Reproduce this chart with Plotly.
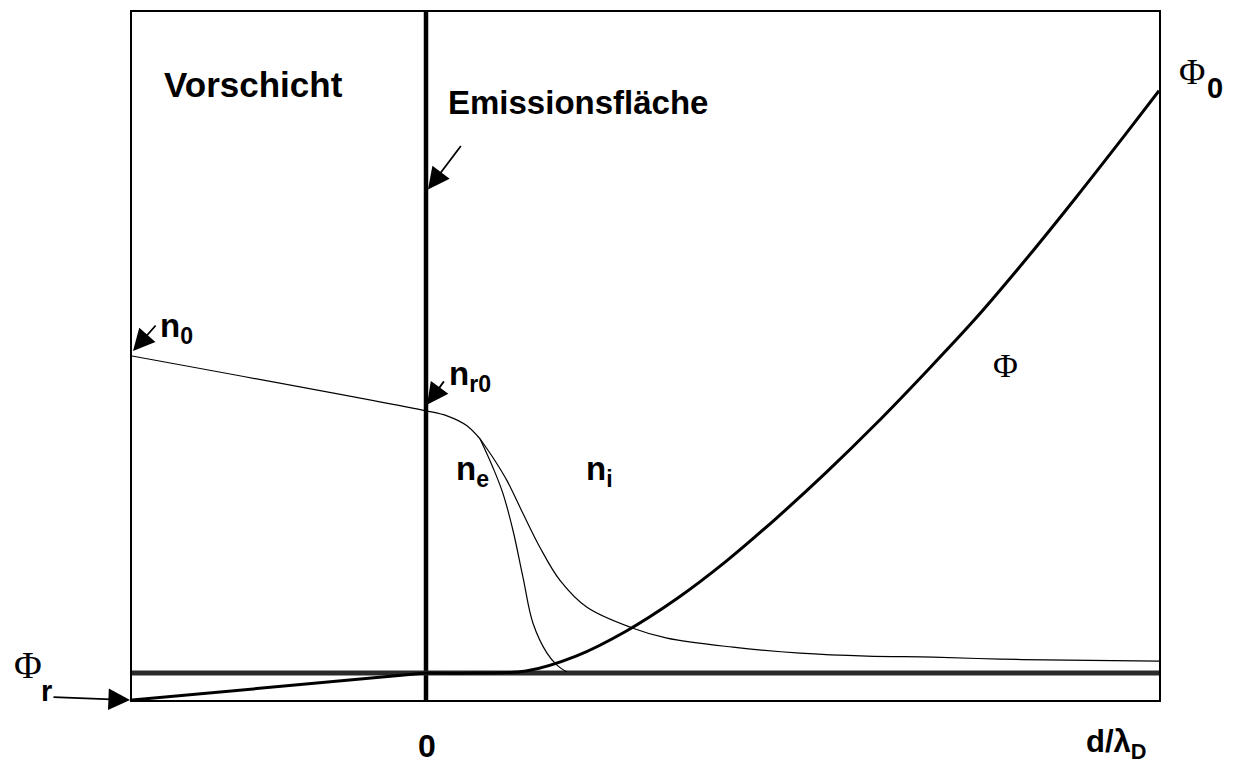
import plotly.graph_objects as go

# ---- data (x = d/lambda_D, y = arbitrary units) ----
n_shared_x = [-2.94, 0.0, 0.21, 0.41, 0.54]
n_shared_y = [3.18, 2.63, 2.58, 2.48, 2.35]

ne_x = [0.54, 0.67, 0.77, 0.87, 0.97, 1.07, 1.21, 1.31, 1.41]
ne_y = [2.35, 2.06, 1.80, 1.43, 0.96, 0.50, 0.20, 0.08, 0.01]

ni_x = [0.54, 0.69, 0.81, 0.97, 1.14, 1.34, 1.61, 2.07, 2.41, 3.07, 3.74, 4.41, 5.07, 5.74, 6.41, 7.33]
ni_y = [2.35, 2.13, 1.93, 1.60, 1.26, 0.93, 0.66, 0.45, 0.35, 0.26, 0.20, 0.17, 0.16, 0.14, 0.13, 0.12]

phi_x = [-2.94, 0.0, 0.5, 1.0, 1.5, 2.0, 2.5, 3.0, 3.5, 4.0, 4.5, 5.0, 5.5, 6.0, 6.5, 7.0, 7.33]
phi_y = [-0.27, 0.0, 0.0, 0.02, 0.17, 0.42, 0.74, 1.12, 1.55, 2.01, 2.50, 3.02, 3.56, 4.15, 4.77, 5.41, 5.84]

x_range = [-2.94, 7.33]
y_range = [-0.27, 6.63]

SANS = "Liberation Sans"
SERIF = "Liberation Serif"

fig = go.Figure()

# emission surface (x = 0) and zero line
fig.add_trace(go.Scatter(x=[0, 0], y=y_range, mode="lines",
                         line=dict(color="black", width=4.5), hoverinfo="skip"))
fig.add_trace(go.Scatter(x=x_range, y=[0, 0], mode="lines",
                         line=dict(color="#2a2a2a", width=5), hoverinfo="skip"))

# densities
fig.add_trace(go.Scatter(x=n_shared_x, y=n_shared_y, mode="lines",
                         line=dict(color="black", width=1.2, shape="spline", smoothing=0.8)))
fig.add_trace(go.Scatter(x=ne_x, y=ne_y, mode="lines",
                         line=dict(color="black", width=1.2, shape="spline", smoothing=1.0)))
fig.add_trace(go.Scatter(x=ni_x, y=ni_y, mode="lines",
                         line=dict(color="black", width=1.2, shape="spline", smoothing=1.0)))
# potential
fig.add_trace(go.Scatter(x=phi_x[:2], y=phi_y[:2], mode="lines",
                         line=dict(color="black", width=3)))
fig.add_trace(go.Scatter(x=phi_x[1:], y=phi_y[1:], mode="lines",
                         line=dict(color="black", width=3, shape="spline", smoothing=1.0)))

# pixel -> paper coordinates of the plot box (132..1159, 10..700)
L, R, T, B = 132, 1159, 10, 700


def pxp(px):
    return (px - L) / (R - L)


def pyp(py):
    return (B - py) / (B - T)


ann = []


def text(px, py, s, size=32, family=SANS, xanchor="center", yanchor="middle"):
    ann.append(dict(x=pxp(px), y=pyp(py), xref="paper", yref="paper", text=s, showarrow=False,
                    font=dict(family=family, size=size, color="black"),
                    xanchor=xanchor, yanchor=yanchor))


def arrow(tip_px, tip_py, tail_px, tail_py):
    ann.append(dict(x=pxp(tip_px), y=pyp(tip_py), xref="paper", yref="paper", text="",
                    showarrow=True, ax=tail_px - tip_px, ay=tail_py - tip_py,
                    arrowhead=2, arrowsize=2.4, arrowwidth=1.8, arrowcolor="black",
                    standoff=0, startstandoff=0))


text(162, 83, "<b>Vorschicht</b>", size=35, xanchor="left")
text(446, 101, "<b>Emissionsfläche</b>", size=33, xanchor="left")
text(176, 327, "<b>n<sub>0</sub></b>", size=33)
text(470, 375, "<b>n<sub>r0</sub></b>", size=33)
text(472, 470, "<b>n<sub>e</sub></b>", size=33)
text(599, 470, "<b>n<sub>i</sub></b>", size=33)
text(1005, 365, "Φ", size=34, family=SERIF)
text(1192, 70, "Φ", size=36, family=SERIF)
text(1215, 86, "<b>0</b>", size=29)
text(28, 665, "Φ", size=38, family=SERIF)
text(46, 691, "<b>r</b>", size=29)
text(427, 746, "<b>0</b>", size=32)
text(1116, 744, "<b>d/λ<sub>D</sub></b>", size=31)

arrow(428, 188, 462, 143)
arrow(133, 350, 157, 323)
arrow(427, 404, 445, 379)
arrow(130, 700, 52, 697)

fig.update_layout(
    width=1238, height=767,
    margin=dict(l=L, r=1238 - R, t=T, b=767 - B),
    paper_bgcolor="white", plot_bgcolor="white",
    showlegend=False,
    annotations=ann,
    xaxis=dict(range=x_range, showgrid=False, zeroline=False, showticklabels=False,
               ticks="", showline=True, mirror=True, linecolor="black", linewidth=2),
    yaxis=dict(range=y_range, showgrid=False, zeroline=False, showticklabels=False,
               ticks="", showline=True, mirror=True, linecolor="black", linewidth=2),
)

fig.write_html("out.html")
